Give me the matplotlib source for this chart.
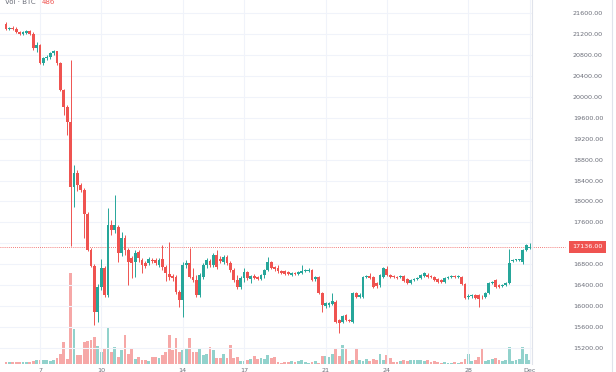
import matplotlib

matplotlib.use("Agg")
import matplotlib.pyplot as plt
import numpy as np
import pandas as pd
from matplotlib.lines import Line2D

# BTC 4h candles, 5 Nov 2022 08:00 -> 1 Dec 2022 00:00
start = "2022-11-05 08:00"

opens = [
    21390, 21300, 21320, 21300, 21240, 21190, 21220, 21250, 21200, 20930,
    20980, 20650, 20740, 20760, 20840, 20870, 20640, 20130, 19800, 19520,
    18280, 18540, 18310, 18220, 17760, 17080, 16770, 15890, 16370,
    16730, 16210, 17550, 17460, 17510, 17020, 17300, 17070, 16920, 16840,
    17030, 16880, 16820, 16820, 16880, 16880, 16790, 16900, 16750, 16610,
    16580, 16560, 16270, 16120, 16790, 16820, 16560, 16500, 16210, 16560,
    16790, 16860, 16790,
    16980, 16900, 16840, 16940, 16820, 16690, 16500, 16370, 16540, 16650,
    16520, 16580, 16560, 16520, 16600, 16690, 16840, 16750, 16730, 16670,
    16670, 16650, 16600, 16630, 16610, 16630, 16670, 16670, 16690, 16520,
    16560, 16250, 16000, 16020, 16040, 16080, 15740, 15700, 15830, 15740,
    15700, 16250, 16180, 16180, 16560, 16580, 16560, 16440, 16400, 16560,
    16710, 16600, 16580, 16560, 16560, 16580, 16520, 16440, 16500, 16520,
    16540, 16580, 16600, 16580, 16560, 16520, 16500, 16460, 16540, 16560,
    16570, 16560, 16560, 16420, 16180, 16190, 16210, 16210, 16180, 16180,
    16250, 16440, 16500, 16400, 16390, 16400, 16440, 16860, 16880, 16880,
    16850, 17070, 17110,
]
highs = [
    21430, 21340, 21350, 21330, 21260, 21250, 21270, 21270, 21230, 21050,
    21000, 20760, 20800, 20860, 20900, 20880, 20660, 20150, 19850, 20700,
    18700, 18600, 18350, 18250, 17800, 17120, 16800, 16420, 16900,
    16770, 17870, 17650, 18120, 17550, 17420, 17360, 17110, 16960, 17070,
    17070, 16920, 16860, 16940, 16920, 16920, 16920, 17170, 16790, 17230,
    16610, 16600, 16310, 16840, 16880, 17110, 16730, 16600, 16630, 16820,
    16920, 16900, 17020,
    17070, 16960, 16980, 16980, 16860, 16730, 16600, 16580, 16730, 16670,
    16600, 16610, 16580, 16610, 16710, 16940, 16860, 16770, 16790, 16690,
    16690, 16670, 16650, 16650, 16670, 16790, 16710, 16730, 16710, 16580,
    16580, 16270, 16080, 16080, 16250, 16120, 15760, 15830, 15850, 15760,
    16270, 16270, 16250, 16580, 16600, 16630, 16580, 16460, 16610, 16750,
    16770, 16610, 16600, 16580, 16600, 16600, 16540, 16520, 16540, 16560,
    16610, 16650, 16630, 16600, 16580, 16540, 16520, 16560, 16580, 16590,
    16600, 16590, 16580, 16440, 16230, 16230, 16230, 16230, 16210, 16270,
    16460, 16480, 16520, 16420, 16420, 16460, 17090, 16900, 16910, 16910,
    17090, 17190, 17200,
]
lows = [
    21280, 21270, 21280, 21220, 21170, 21170, 21200, 21180, 20900, 20860,
    20620, 20610, 20700, 20720, 20800, 20600, 20110, 19650, 19270, 17150,
    17890, 18200, 18180, 17300, 17050, 16740, 15640, 15700, 16300,
    16170, 16180, 17360, 17400, 16840, 16960, 16980, 16400, 16540, 16560,
    16840, 16630, 16730, 16790, 16820, 16790, 16750, 16690, 16480, 16500,
    16480, 16230, 15980, 15790, 16730, 16540, 16460, 16180, 16180, 16520,
    16730, 16750, 16750,
    16710, 16820, 16810, 16790, 16650, 16460, 16330, 16330, 16460, 16500,
    16440, 16520, 16500, 16500, 16540, 16670, 16710, 16670, 16630, 16610,
    16600, 16600, 16580, 16600, 16600, 16610, 16650, 16650, 16480, 16480,
    16230, 15890, 15960, 15980, 16020, 15680, 15490, 15680, 15720, 15700,
    15680, 16160, 16160, 16160, 16540, 16520, 16350, 16350, 16370, 16540,
    16580, 16540, 16540, 16520, 16540, 16460, 16420, 16420, 16480, 16500,
    16520, 16560, 16540, 16540, 16480, 16440, 16440, 16440, 16520, 16530,
    16540, 16530, 16400, 16140, 16140, 16160, 16140, 15980, 16140, 16160,
    16230, 16420, 16350, 16350, 16370, 16390, 16420, 16840, 16860, 16860,
    16810, 17050, 17090,
]
closes = [
    21300, 21320, 21300, 21240, 21190, 21230, 21250, 21200, 20930, 20980,
    20650, 20740, 20760, 20840, 20870, 20640, 20130, 19800, 19520, 18280,
    18540, 18310, 18220, 17760, 17080, 16770, 15890, 16370, 16730,
    16210, 17550, 17460, 17550, 17020, 17300, 17070, 16840, 16820, 17020,
    16920, 16790, 16770, 16900, 16860, 16820, 16880, 16750, 16630, 16560,
    16540, 16270, 16120, 16790, 16820, 16560, 16500, 16210, 16600, 16790,
    16880, 16790, 16980,
    16750, 16860, 16940, 16820, 16690, 16500, 16370, 16540, 16650, 16540,
    16580, 16540, 16520, 16600, 16690, 16840, 16730, 16710, 16670, 16630,
    16610, 16610, 16630, 16610, 16650, 16670, 16690, 16690, 16500, 16560,
    16250, 16020, 16060, 16060, 16100, 15700, 15680, 15810, 15740, 15720,
    16250, 16180, 16210, 16560, 16580, 16540, 16370, 16390, 16600, 16730,
    16600, 16560, 16560, 16540, 16580, 16480, 16440, 16500, 16520, 16540,
    16600, 16630, 16560, 16560, 16500, 16460, 16460, 16540, 16560, 16570,
    16560, 16570, 16420, 16160, 16190, 16200, 16160, 16140, 16170, 16250,
    16440, 16460, 16370, 16370, 16400, 16440, 16820, 16880, 16900, 16890,
    17070, 17170, 17136,
]
volumes = [
    240, 240, 240, 240, 240, 240, 240, 240, 360, 480,
    480, 480, 480, 360, 480, 720, 1200, 2640, 600, 11040,
    4200, 1080, 1080, 2640, 2760, 2880, 3240, 2160, 1440, 1920,
    4440, 1440, 2040, 840, 1680, 3480, 1200, 1800, 600, 840,
    480, 480, 360, 840, 840, 720, 1080, 1440, 3480, 1680,
    3120, 1440, 1680, 1920, 3120, 1440, 1440, 1920, 1080, 1200,
    2040, 1680, 720, 720, 1200, 720, 2280, 720, 840, 360,
    360, 480, 600, 960, 600, 720, 600, 1080, 720, 840,
    240, 120, 240, 240, 360, 240, 360, 480, 240, 120,
    240, 360, 120, 960, 960, 840, 1200, 1800, 960, 2280,
    1920, 360, 480, 1800, 480, 360, 600, 360, 600, 480,
    1200, 480, 1080, 720, 240, 240, 360, 480, 360, 480,
    480, 480, 480, 360, 480, 240, 360, 240, 120, 240,
    120, 120, 240, 120, 240, 600, 1200, 360, 480, 840,
    1800, 360, 480, 600, 720, 480, 360, 480, 2040, 360,
    480, 600, 2040, 1200, 486,
]
price_ticks = [15200, 15600, 16000, 16400, 16800, 17200, 17600, 18000, 18400,
               18800, 19200, 19600, 20000, 20400, 20800, 21200, 21600]
tick_dates = ["2022-11-07", "2022-11-10", "2022-11-14", "2022-11-17",
              "2022-11-21", "2022-11-24", "2022-11-28", "2022-12-01"]
tick_labels = ["7", "10", "14", "17", "21", "24", "28", "Dec"]
last_price = 17136.00
vol_label = "Vol · BTC"

RED = "#ef5350"
TEAL = "#26a69a"
GRID = "#f0f3fa"
TXT = "#6a6d78"
FS = 4.6

W, H = 616, 372
o = np.array(opens, float)
hi = np.array(highs, float)
lo = np.array(lows, float)
c = np.array(closes, float)
v = np.array(volumes, float)
n = len(o)
x = np.arange(n)
dates = pd.date_range(start, periods=n, freq="4h")
tick_pos = [dates.get_loc(pd.Timestamp(d)) for d in tick_dates]
col = np.where(c >= o, TEAL, RED)

fig = plt.figure(figsize=(W / 100, H / 100), dpi=100)
rect = [0, 8 / H, 532 / W, 364 / H]

# volume pane underneath
axv = fig.add_axes(rect)
axv.bar(x, v, width=0.78, color=col, alpha=0.5, linewidth=0)
axv.set_ylim(0, 364 * 121.5)
axv.set_xlim(-1.76, 154.7)
axv.axis("off")

# price pane on top
ax = fig.add_axes(rect)
ax.patch.set_visible(False)
ax.vlines(x, lo, hi, colors=col, lw=0.7, zorder=3)
ax.bar(x, np.maximum(np.abs(c - o), 15), bottom=np.minimum(o, c), width=0.8,
       color=col, linewidth=0, zorder=3)
ax.set_xlim(-1.76, 154.7)
ax.set_ylim(14896, 21848)

ax.set_yticks(price_ticks)
ax.set_yticklabels([f"{p:.2f}" for p in price_ticks])
ax.yaxis.tick_right()
ax.tick_params(axis="y", length=0, pad=29.5, labelsize=FS, labelcolor=TXT)
ax.set_xticks(tick_pos)
ax.set_xticklabels(tick_labels)
ax.tick_params(axis="x", length=0, pad=3.2, labelsize=FS, labelcolor=TXT)
ax.grid(True, color=GRID, lw=0.8, zorder=0)
ax.set_axisbelow(True)
for side in ("top", "left", "bottom"):
    ax.spines[side].set_visible(False)
ax.spines["right"].set_color("#e0e3eb")
ax.spines["right"].set_linewidth(0.8)

# last price line and label (the label box sits over the 17200 tick, as in the app)
ax.plot([0, 565 / 532], [last_price, last_price], transform=ax.get_yaxis_transform(),
        color=RED, lw=0.6, ls=(0, (1, 1.5)), clip_on=False, zorder=2)
ax.text(587.5 / 532, last_price, f"{last_price:.2f}", transform=ax.get_yaxis_transform(),
        ha="center", va="center", color="white", fontsize=FS, zorder=5,
        bbox=dict(boxstyle="square,pad=0.55", fc=RED, ec="none"))

fig.add_artist(Line2D([612 / W, 612 / W], [0, 1], color="#e0e3eb", lw=0.8))

fig.text(5 / W, 1 - 4 / H, vol_label, fontsize=FS + 0.4, color=TXT, va="baseline")
fig.text(42 / W, 1 - 4 / H, f"{volumes[-1]}", fontsize=FS + 0.4, color=RED, va="baseline")

fig.savefig("out.png", dpi=100)
